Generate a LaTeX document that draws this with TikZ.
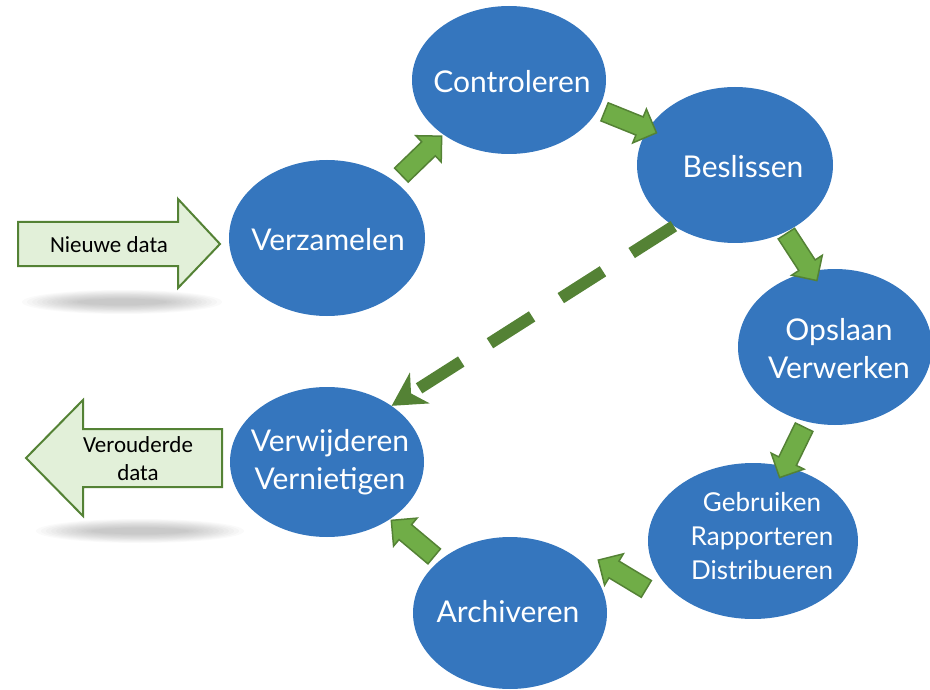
\documentclass[tikz,border=0pt]{standalone}
\usepackage{fontspec}
\setmainfont{Lato}
\newfontfamily\calibri{Carlito}
\usetikzlibrary{shapes.geometric,shapes.arrows,arrows.meta,calc}
\definecolor{bubble}{RGB}{53,118,190}
\definecolor{leaf}{RGB}{112,173,71}
\definecolor{moss}{RGB}{84,130,53}
\definecolor{pale}{RGB}{226,240,217}

\begin{document}
\begin{tikzpicture}[x=1pt,y=-1pt,
  bubble/.style={ellipse, fill=bubble, inner sep=0pt},
  bubbletext/.style={text=white, align=center, inner sep=0pt, font=\fontsize{30}{38}\selectfont},
  smallbubbletext/.style={text=white, align=center, inner sep=0pt, font=\fontsize{26}{34}\selectfont},
  flowarrow/.style={single arrow, fill=leaf, draw=moss, line width=1.5pt,
    minimum height=56pt, inner xsep=0pt, inner ysep=9pt, single arrow head extend=8.5pt},
  blockarrow/.style={fill=pale, draw=moss, line width=2pt, line join=miter},
  arrowlabel/.style={align=center, inner sep=0pt, font=\calibri\fontsize{23}{28}\selectfont},
  shortcut/.style={draw=moss, line width=12pt, dash pattern=on 50pt off 34pt,
    -{Stealth[length=33pt,width=36pt,inset=10pt]}},
  softshadow/.style={fill=black, opacity=0.018}
]
\useasboundingbox (0,0) rectangle (930,690);

% soft shadows under the two data arrows
\foreach \k in {0,...,11}
  \fill[softshadow] (122,302) ellipse [x radius={100-\k*5}, y radius={12-\k*0.8}];
\foreach \k in {0,...,11}
  \fill[softshadow] (140,531) ellipse [x radius={104-\k*5}, y radius={12-\k*0.8}];

% incoming and outgoing data
\draw[blockarrow] (18,222) -- (178,222) -- (178,199) -- (220,244) -- (178,288)
  -- (178,266) -- (18,266) -- cycle;
\node[arrowlabel] (nieuw) at (109,245) {Nieuwe data};
\draw[blockarrow] (222,429) -- (83,429) -- (83,400) -- (26,458) -- (83,516)
  -- (83,487) -- (222,487) -- cycle;
\node[arrowlabel] (oud) at (138,459) {Verouderde\\data};

% lifecycle stages
\node[bubble, minimum width=196pt, minimum height=156pt] (verz) at (327,238) {};
\node[bubble, minimum width=194pt, minimum height=148pt] (contr) at (509,80) {};
\node[bubble, minimum width=196pt, minimum height=156pt] (besl) at (735,165) {};
\node[bubble, minimum width=194pt, minimum height=156pt] (opsl) at (835,347) {};
\node[bubble, minimum width=210pt, minimum height=156pt] (gebr) at (753,541) {};
\node[bubble, minimum width=194pt, minimum height=152pt] (arch) at (510,613) {};
\node[bubble, minimum width=194pt, minimum height=150pt] (verw) at (327,462) {};

\node[bubbletext] (verz-t) at (328,240) {Verzamelen};
\node[bubbletext] (contr-t) at (512,82) {Controleren};
\node[bubbletext] (besl-t) at (743,167) {Beslissen};
\node[bubbletext] (opsl-t) at (839,349) {Opslaan\\Verwerken};
\node[smallbubbletext] (gebr-t) at (762,536) {Gebruiken\\Rapporteren\\Distribueren};
\node[bubbletext] (arch-t) at (508,612) {Archiveren};
\node[bubbletext] (verw-t) at (330,462) {Verwijderen\\Vernietigen};

% flow between the stages
\node[flowarrow, rotate=44] (a1) at ($(verz)!0.5!(contr)$) {};
\node[flowarrow, rotate=-22] (a2) at ($(contr)!0.5!(besl)+(4,-2)$) {};
\node[flowarrow, rotate=-57] (a3) at ($(besl)!0.5!(opsl)+(14,-3)$) {};
\node[flowarrow, rotate=-116] (a4) at ($(opsl)!0.5!(gebr)+(0,4)$) {};
\node[flowarrow, rotate=149] (a5) at ($(gebr)!0.5!(arch)+(-5,0)$) {};
\node[flowarrow, rotate=140] (a6) at ($(arch)!0.5!(verw)+(-2,4)$) {};

% shortcut from deciding straight to removal
\draw[shortcut] (besl.225) -- (verw.41);
\end{tikzpicture}
\end{document}
